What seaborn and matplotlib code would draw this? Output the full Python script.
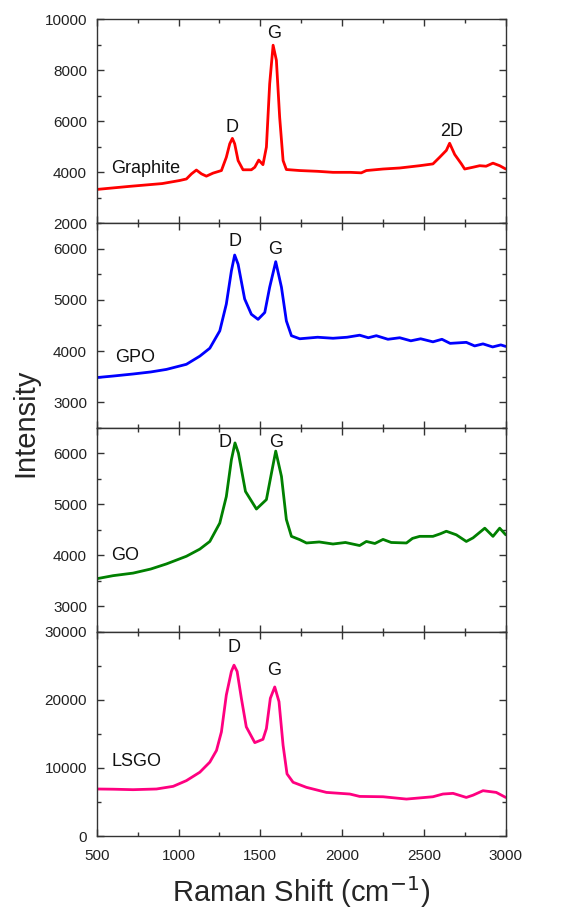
import matplotlib
matplotlib.use("Agg")
import matplotlib.pyplot as plt
import seaborn as sns
from matplotlib.ticker import MultipleLocator

# Raman spectra (x in cm-1, y in counts)
graphite_x = [500, 700, 900, 1007, 1048, 1079, 1109, 1140, 1170, 1211, 1262, 1292, 1313, 1329,
              1343, 1364, 1394, 1445, 1466, 1490, 1516, 1537, 1557, 1578, 1598, 1618, 1639,
              1659, 1741, 1850, 1944, 2050, 2117, 2148, 2250, 2352, 2474, 2555, 2596, 2637,
              2657, 2688, 2729, 2749, 2800, 2841, 2880, 2922, 2963, 3000]
graphite_y = [3330, 3450, 3560, 3680, 3740, 3940, 4090, 3940, 3850, 3970, 4070, 4590, 5120, 5330,
              5120, 4460, 4100, 4100, 4200, 4480, 4300, 4990, 7470, 8980, 8390, 6160, 4460,
              4110, 4070, 4040, 4000, 4000, 3980, 4070, 4130, 4170, 4260, 4330, 4590, 4860,
              5140, 4700, 4330, 4130, 4200, 4260, 4240, 4360, 4260, 4130]

gpo_x = [500, 600, 722, 830, 926, 1048, 1130, 1191, 1252, 1292, 1323, 1343, 1364, 1404, 1445,
         1486, 1527, 1557, 1594, 1629, 1659, 1690, 1741, 1850, 1944, 2030, 2107, 2160, 2209,
         2280, 2352, 2420, 2480, 2555, 2610, 2660, 2759, 2810, 2861, 2920, 2970, 3000]
gpo_y = [3480, 3510, 3550, 3590, 3640, 3740, 3900, 4055, 4395, 4920, 5570, 5880, 5700, 5020, 4720,
         4620, 4755, 5250, 5750, 5250, 4590, 4300, 4240, 4270, 4250, 4270, 4310, 4260, 4300,
         4230, 4260, 4200, 4240, 4180, 4230, 4150, 4170, 4100, 4140, 4080, 4120, 4090]

go_x = [500, 600, 722, 830, 926, 1048, 1130, 1191, 1252, 1292, 1323, 1345, 1366, 1409, 1476,
        1537, 1568, 1594, 1629, 1659, 1690, 1741, 1782, 1860, 1944, 2020, 2107, 2148, 2200,
        2250, 2300, 2393, 2430, 2474, 2555, 2600, 2637, 2698, 2759, 2800, 2872, 2922, 2963, 3000]
go_y = [3540, 3600, 3650, 3730, 3830, 3980, 4120, 4270, 4630, 5150, 5870, 6200, 6000, 5250, 4905,
        5090, 5610, 6040, 5545, 4700, 4370, 4305, 4240, 4260, 4220, 4250, 4190, 4270, 4230,
        4310, 4250, 4240, 4330, 4370, 4370, 4420, 4470, 4400, 4270, 4340, 4530, 4370, 4530, 4400]

lsgo_x = [500, 600, 722, 865, 967, 1048, 1130, 1191, 1232, 1262, 1292, 1323, 1339, 1358, 1384,
          1414, 1466, 1516, 1537, 1561, 1588, 1614, 1639, 1663, 1700, 1782, 1904, 2047, 2107,
          2250, 2393, 2555, 2616, 2678, 2759, 2800, 2861, 2942, 3000]
lsgo_y = [6910, 6880, 6810, 6910, 7300, 8140, 9375, 10855, 12580, 15300, 20720, 24180, 25100,
          24180, 20230, 16035, 13720, 14210, 15790, 20230, 21900, 19740, 13320, 9130, 7900,
          7150, 6410, 6170, 5820, 5770, 5430, 5770, 6170, 6270, 5670, 6000, 6660, 6410, 5670]

spectra = [
    ("Graphite", graphite_x, graphite_y, "#ff0000"),
    ("GPO", gpo_x, gpo_y, "#0000ff"),
    ("GO", go_x, go_y, "#008000"),
    ("LSGO", lsgo_x, lsgo_y, "#ff0080"),
]

# y ranges / tick steps for each panel
y_limits = [(2000, 10000), (2500, 6500), (2500, 6500), (0, 30000)]
y_major = [2000, 1000, 1000, 10000]

# peak labels: (text, x, y)
peak_labels = [
    [("D", 1327, 5770), ("G", 1582, 9440), ("2D", 2667, 5600)],
    [("D", 1347, 6150), ("G", 1588, 5980)],
    [("D", 1284, 6215), ("G", 1594, 6215)],
    [("D", 1341, 27730), ("G", 1582, 24320)],
]
name_pos = [(585, 4140), (610, 3870), (586, 3990), (590, 10950)]

sns.set_style("ticks")
plt.rcParams['font.family'] = ['Liberation Sans', 'DejaVu Sans']

fig = plt.figure(figsize=(5.76, 9.13), dpi=100)
gs = fig.add_gridspec(4, 1, left=0.168, right=0.878, top=0.979, bottom=0.0843, hspace=0)

for i, (name, xs, ys, col) in enumerate(spectra):
    ax = fig.add_subplot(gs[i])
    sns.lineplot(x=xs, y=ys, ax=ax, color=col, lw=2.0)
    ax.set_xlim(500, 3000)
    ax.set_ylim(*y_limits[i])
    ax.xaxis.set_major_locator(MultipleLocator(500))
    ax.xaxis.set_minor_locator(MultipleLocator(250))
    ax.yaxis.set_major_locator(MultipleLocator(y_major[i]))
    ax.yaxis.set_minor_locator(MultipleLocator(y_major[i] / 2))
    ax.tick_params(which='both', direction='in', top=True, right=True, color='#333333',
                   labelsize=11, labelcolor='#222222', width=1.0)
    ax.tick_params(which='major', length=5)
    ax.tick_params(which='minor', length=3)
    ax.tick_params(axis='y', pad=7)
    ax.tick_params(axis='x', pad=9)
    for sp in ax.spines.values():
        sp.set_color('#333333')
        sp.set_linewidth(1.0)
    if i < 3:
        ax.tick_params(labelbottom=False)
    else:
        ax.set_xlabel("Raman Shift (cm$^{-1}$)", fontsize=21, labelpad=8)

    for txt, tx, ty in peak_labels[i]:
        ax.text(tx, ty, txt, fontsize=13, ha='center', va='center', color='#111111')
    ax.text(name_pos[i][0], name_pos[i][1], name, fontsize=13, ha='left', va='center',
            color='#111111')

fig.text(25 / 576, 1 - 423 / 913, "Intensity", rotation=90, fontsize=21,
         ha='center', va='center')

plt.savefig('out.png', dpi=100)
plt.close()
